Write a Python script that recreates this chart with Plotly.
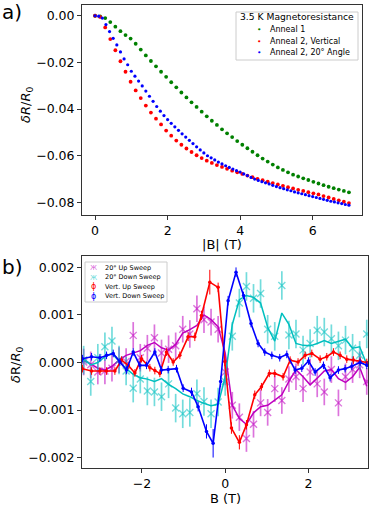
import plotly.graph_objects as go

# ---- panel a: |B| sweep, 3.5 K magnetoresistance ----
b_a = [0.00, 0.14, 0.28, 0.42, 0.56, 0.70, 0.84, 0.98, 1.12, 1.26, 1.40, 1.54, 1.68, 1.82, 1.96,
       2.10, 2.24, 2.38, 2.52, 2.66, 2.80, 2.94, 3.08, 3.22, 3.36, 3.50, 3.64, 3.78, 3.92, 4.06,
       4.20, 4.34, 4.48, 4.62, 4.76, 4.90, 5.04, 5.18, 5.32, 5.46, 5.60, 5.74, 5.88, 6.02, 6.16,
       6.30, 6.44, 6.58, 6.72, 6.86, 7.00]
anneal1 = [0.0000, -0.0003, -0.0010, -0.0027, -0.0047, -0.0066, -0.0083, -0.0098, -0.0120, -0.0145,
           -0.0170, -0.0194, -0.0217, -0.0240, -0.0262, -0.0285, -0.0307, -0.0329, -0.0350, -0.0371,
           -0.0391, -0.0411, -0.0431, -0.0450, -0.0468, -0.0487, -0.0504, -0.0520, -0.0537, -0.0553,
           -0.0568, -0.0583, -0.0598, -0.0612, -0.0625, -0.0638, -0.0650, -0.0661, -0.0671, -0.0681,
           -0.0689, -0.0697, -0.0704, -0.0712, -0.0719, -0.0726, -0.0733, -0.0739, -0.0745, -0.0751,
           -0.0757]
anneal2_vert = [0.0000, -0.0005, -0.0050, -0.0100, -0.0148, -0.0195, -0.0240, -0.0283, -0.0320, -0.0353,
                -0.0385, -0.0415, -0.0441, -0.0466, -0.0492, -0.0514, -0.0535, -0.0553, -0.0569, -0.0584,
                -0.0598, -0.0610, -0.0621, -0.0631, -0.0640, -0.0648, -0.0656, -0.0664, -0.0671, -0.0678,
                -0.0685, -0.0692, -0.0699, -0.0705, -0.0711, -0.0717, -0.0723, -0.0729, -0.0735, -0.0740,
                -0.0746, -0.0751, -0.0756, -0.0761, -0.0766, -0.0773, -0.0779, -0.0785, -0.0791, -0.0797,
                -0.0803]
vert_err = 0.0004

b_a20 = [0.0, 0.1, 0.2, 0.3, 0.4, 0.5, 0.6, 0.7, 0.8, 0.9, 1.0, 1.1, 1.2, 1.3, 1.4, 1.5, 1.6, 1.7,
         1.8, 1.9, 2.0, 2.1, 2.2, 2.3, 2.4, 2.5, 2.6, 2.7, 2.8, 2.9, 3.0, 3.1, 3.2, 3.3, 3.4, 3.5,
         3.6, 3.7, 3.8, 3.9, 4.0, 4.1, 4.2, 4.3, 4.4, 4.5, 4.6, 4.7, 4.8, 4.9, 5.0, 5.1, 5.2, 5.3,
         5.4, 5.5, 5.6, 5.7, 5.8, 5.9, 6.0, 6.1, 6.2, 6.3, 6.4, 6.5, 6.6, 6.7, 6.8, 6.9, 7.0]
anneal2_20 = [0.0000, -0.0002, -0.0010, -0.0038, -0.0068, -0.0097, -0.0125, -0.0155, -0.0185, -0.0210,
              -0.0238, -0.0259, -0.0280, -0.0301, -0.0323, -0.0345, -0.0367, -0.0389, -0.0409, -0.0428,
              -0.0445, -0.0461, -0.0476, -0.0491, -0.0506, -0.0520, -0.0534, -0.0548, -0.0562, -0.0575,
              -0.0588, -0.0600, -0.0609, -0.0618, -0.0627, -0.0635, -0.0643, -0.0650, -0.0657, -0.0664,
              -0.0670, -0.0678, -0.0685, -0.0693, -0.0700, -0.0706, -0.0711, -0.0716, -0.0721, -0.0727,
              -0.0732, -0.0737, -0.0741, -0.0746, -0.0750, -0.0755, -0.0759, -0.0763, -0.0767, -0.0771,
              -0.0775, -0.0779, -0.0783, -0.0787, -0.0791, -0.0795, -0.0798, -0.0802, -0.0805, -0.0809,
              -0.0812]

# ---- panel b: up / down sweeps ----
grid_b = [-3.40, -3.23, -3.06, -2.89, -2.72, -2.55, -2.38, -2.21, -2.04, -1.87, -1.70, -1.53, -1.36,
          -1.19, -1.02, -0.85, -0.68, -0.51, -0.34, -0.17, 0.00, 0.17, 0.34, 0.51, 0.68, 0.85, 1.02,
          1.19, 1.36, 1.53, 1.70, 1.87, 2.04, 2.21, 2.38, 2.55, 2.72, 2.89, 3.06, 3.23, 3.40]

up20_pts = [0.00001, -0.00005, -0.00020, -0.00018, -0.00012, 0.00005, 0.00002, 0.00057, 0.00010, 0.00030,
            0.00052, 0.00020, 0.00028, 0.00035, 0.00070, 0.00060, 0.00113, 0.00090, 0.00085, 0.00070,
            -0.00020, -0.00090, -0.00115, -0.00160, -0.00130, -0.00085, -0.00105, -0.00055, -0.00080, -0.00035,
            -0.00030, -0.00055, -0.00020, -0.00045, -0.00062, -0.00015, -0.00085, -0.00030, -0.00015, -0.00005,
            -0.00040]
up20_err = [0.00028, 0.00028, 0.00026, 0.00028, 0.00028, 0.00027, 0.00028, 0.00028, 0.00029, 0.00028,
            0.00028, 0.00028, 0.00029, 0.00028, 0.00028, 0.00029, 0.00028, 0.00028, 0.00028, 0.00028,
            0.00028, 0.00028, 0.00029, 0.00028, 0.00028, 0.00028, 0.00028, 0.00028, 0.00028, 0.00027,
            0.00028, 0.00028, 0.00028, 0.00028, 0.00028, 0.00028, 0.00028, 0.00028, 0.00028, 0.00028,
            0.00028]
up20_line = [0.00004, -0.00003, -0.00012, -0.00016, -0.00008, 0.00005, 0.00015, 0.00020, 0.00025, 0.00036,
             0.00042, 0.00031, 0.00026, 0.00038, 0.00062, 0.00069, 0.00078, 0.00100, 0.00090, 0.00075,
             0.00020, -0.00090, -0.00118, -0.00130, -0.00106, -0.00093, -0.00090, -0.00079, -0.00068, -0.00040,
             -0.00015, -0.00030, -0.00047, -0.00033, -0.00018, -0.00015, -0.00034, -0.00042, -0.00030, -0.00010,
             -0.00050]

down20_pts = [0.00005, -0.00040, 0.00010, 0.00033, 0.00045, 0.00005, -0.00018, -0.00054, -0.00035, -0.00060,
              -0.00062, -0.00072, -0.00045, -0.00096, -0.00108, -0.00105, -0.00066, -0.00082, -0.00108, -0.00083,
              -0.00040, 0.00055, 0.00125, 0.00160, 0.00135, 0.00145, 0.00070, 0.00055, 0.00162, 0.00058,
              0.00060, 0.00026, 0.00040, 0.00068, 0.00064, 0.00050, 0.00035, 0.00047, 0.00030, 0.00015,
              0.00060]
down20_err = [0.00030, 0.00030, 0.00029, 0.00030, 0.00030, 0.00030, 0.00030, 0.00030, 0.00030, 0.00030,
              0.00030, 0.00030, 0.00030, 0.00030, 0.00030, 0.00030, 0.00030, 0.00030, 0.00030, 0.00030,
              0.00030, 0.00030, 0.00030, 0.00030, 0.00030, 0.00030, 0.00030, 0.00030, 0.00030, 0.00030,
              0.00030, 0.00030, 0.00030, 0.00030, 0.00030, 0.00030, 0.00030, 0.00030, 0.00030, 0.00030,
              0.00030]
down20_line = [0.00008, -0.00005, 0.00000, 0.00012, 0.00019, 0.00002, -0.00013, -0.00025, -0.00032, -0.00035,
               -0.00040, -0.00034, -0.00046, -0.00055, -0.00066, -0.00072, -0.00080, -0.00086, -0.00091, -0.00088,
               -0.00030, 0.00080, 0.00132, 0.00141, 0.00137, 0.00125, 0.00074, 0.00045, 0.00104, 0.00080,
               0.00040, 0.00036, 0.00035, 0.00040, 0.00046, 0.00040, 0.00045, 0.00049, 0.00030, 0.00033,
               -0.00004]

vup_b = [-3.43, -3.21, -3.01, -2.85, -2.65, -2.49, -2.33, -2.17, -2.01, -1.81, -1.69, -1.57, -1.41, -1.25,
         -1.09, -0.89, -0.73, -0.57, -0.37, -0.17, -0.01, 0.15, 0.34, 0.51, 0.71, 0.87, 1.06, 1.19, 1.39,
         1.56, 1.75, 1.92, 2.08, 2.28, 2.44, 2.60, 2.76, 2.92, 3.08, 3.24, 3.40]
vup = [-0.00013, -0.00018, -0.00018, -0.00018, -0.00018, 0.00005, -0.00006, -0.00022, 0.00008, -0.00011,
       -0.00017, -0.00023, 0.00022, 0.00001, 0.00015, 0.00054, 0.00054, 0.00099, 0.00169, 0.00158,
       0.00002, -0.00138, -0.00168, -0.00131, -0.00068, -0.00051, -0.00023, -0.00023, -0.00030, 0.00005,
       0.00001, 0.00015, 0.00019, 0.00007, 0.00012, 0.00022, 0.00015, 0.00007, 0.00005, 0.00003, 0.00000]
vup_err = [0.00008, 0.00008, 0.00008, 0.00008, 0.00008, 0.00008, 0.00008, 0.00008, 0.00008, 0.00008,
           0.00008, 0.00008, 0.00008, 0.00008, 0.00008, 0.00009, 0.00009, 0.00010, 0.00026, 0.00010,
           0.00010, 0.00012, 0.00015, 0.00010, 0.00009, 0.00008, 0.00008, 0.00008, 0.00008, 0.00008,
           0.00008, 0.00008, 0.00008, 0.00008, 0.00008, 0.00008, 0.00008, 0.00008, 0.00008, 0.00008, 0.00008]

vdown_b = [-3.43, -3.21, -3.01, -2.85, -2.69, -2.53, -2.37, -2.21, -2.05, -1.89, -1.69, -1.53, -1.37, -1.17,
           -1.01, -0.81, -0.65, -0.45, -0.29, -0.11, 0.07, 0.26, 0.44, 0.62, 0.79, 0.95, 1.12, 1.31, 1.48,
           1.68, 1.84, 2.00, 2.16, 2.36, 2.52, 2.72, 2.88, 3.04, 3.24, 3.40]
vdown = [0.00008, 0.00012, 0.00010, 0.00015, 0.00019, 0.00001, -0.00016, 0.00022, -0.00006, -0.00006,
         0.00022, -0.00016, -0.00015, -0.00013, -0.00054, -0.00062, -0.00093, -0.00145, -0.00170, -0.00040,
         0.00130, 0.00190, 0.00141, 0.00082, 0.00040, 0.00022, 0.00015, 0.00010, 0.00017, -0.00016,
         -0.00012, 0.00003, -0.00020, -0.00006, -0.00032, -0.00016, -0.00013, -0.00008, 0.00000, -0.00006]
vdown_err = [0.00008, 0.00008, 0.00008, 0.00008, 0.00008, 0.00008, 0.00008, 0.00008, 0.00008, 0.00008,
             0.00008, 0.00008, 0.00008, 0.00008, 0.00008, 0.00009, 0.00010, 0.00015, 0.00030, 0.00012,
             0.00010, 0.00010, 0.00008, 0.00008, 0.00008, 0.00008, 0.00008, 0.00008, 0.00008, 0.00008,
             0.00008, 0.00008, 0.00008, 0.00008, 0.00008, 0.00008, 0.00008, 0.00008, 0.00008, 0.00008]

legend_a_title = "3.5 K Magnetoresistance"
legend_a_labels = ["Anneal 1", "Anneal 2, Vertical", "Anneal 2, 20° Angle"]
legend_b_labels = ["20° Up Sweep", "20° Down Sweep", "Vert. Up Sweep", "Vert. Down Sweep"]

FONT = "DejaVu Sans"
MAG, MAG_LIGHT = "#bf00bf", "rgba(191,0,191,0.55)"
CYA, CYA_LIGHT = "#00bfbf", "rgba(0,191,191,0.55)"
W, H = 374, 510

fig = go.Figure()

# panel a
fig.add_trace(go.Scatter(x=b_a, y=anneal1, mode="markers", marker=dict(color="green", size=3.8),
                         xaxis="x", yaxis="y"))
fig.add_trace(go.Scatter(x=b_a, y=anneal2_vert, mode="markers", marker=dict(color="red", size=3.8),
                         error_y=dict(type="constant", value=vert_err, color="red", thickness=1, width=0),
                         xaxis="x", yaxis="y"))
fig.add_trace(go.Scatter(x=b_a20, y=anneal2_20, mode="markers", marker=dict(color="blue", size=3.2),
                         xaxis="x", yaxis="y"))

# panel b
fig.add_trace(go.Scatter(x=grid_b, y=up20_pts, mode="markers",
                         marker=dict(symbol="x-thin", size=7, line=dict(color=MAG_LIGHT, width=1.4)),
                         error_y=dict(type="data", array=up20_err, color=MAG_LIGHT, thickness=1.7, width=0),
                         xaxis="x2", yaxis="y2"))
fig.add_trace(go.Scatter(x=grid_b, y=up20_line, mode="lines", line=dict(color=MAG, width=1.5),
                         xaxis="x2", yaxis="y2"))
fig.add_trace(go.Scatter(x=grid_b, y=down20_pts, mode="markers",
                         marker=dict(symbol="x-thin", size=7, line=dict(color=CYA_LIGHT, width=1.4)),
                         error_y=dict(type="data", array=down20_err, color=CYA_LIGHT, thickness=1.7, width=0),
                         xaxis="x2", yaxis="y2"))
fig.add_trace(go.Scatter(x=grid_b, y=down20_line, mode="lines", line=dict(color=CYA, width=1.5),
                         xaxis="x2", yaxis="y2"))
fig.add_trace(go.Scatter(x=vup_b, y=vup, mode="lines+markers",
                         line=dict(color="red", width=1.6), marker=dict(color="red", size=3.5),
                         error_y=dict(type="data", array=vup_err, color="red", thickness=1, width=0),
                         xaxis="x2", yaxis="y2"))
fig.add_trace(go.Scatter(x=vdown_b, y=vdown, mode="lines+markers",
                         line=dict(color="blue", width=1.6), marker=dict(color="blue", size=3.5),
                         error_y=dict(type="data", array=vdown_err, color="blue", thickness=1, width=0),
                         xaxis="x2", yaxis="y2"))

axis_common = dict(showgrid=False, zeroline=False, showline=True, mirror=True, linecolor="#333",
                   linewidth=1, ticks="outside", ticklen=4, tickcolor="#333", automargin=False,
                   tickfont=dict(family=FONT, size=12.5, color="black"))

fig.update_layout(
    template="none", showlegend=False,
    width=W, height=H, margin=dict(l=0, r=0, t=0, b=0, pad=0), autosize=False,
    paper_bgcolor="white", plot_bgcolor="white",
    font=dict(family=FONT, color="black"),
    xaxis=dict(domain=[82 / W, 362 / W], range=[-0.36, 7.36], tickvals=[0, 2, 4, 6], anchor="y", **axis_common),
    yaxis=dict(domain=[295 / H, 505 / H], range=[-0.0854, 0.0046], tickvals=[0, -0.02, -0.04, -0.06, -0.08],
               tickformat=".2f", anchor="x", **axis_common),
    xaxis2=dict(domain=[82 / W, 368 / W], range=[-3.44, 3.43], tickvals=[-2, 0, 2], anchor="y2", **axis_common),
    yaxis2=dict(domain=[42 / H, 254 / H], range=[-0.00222, 0.00224],
                tickvals=[-0.002, -0.001, 0, 0.001, 0.002], tickformat=".3f", anchor="x2", **axis_common),
)


def px(x, y):
    # pixel position (from top-left) -> paper coordinates
    return x / W, 1 - y / H


annos = []


def text(s, x, y, size, xanchor="left", color="black", angle=0):
    xp, yp = px(x, y)
    annos.append(dict(text=s, x=xp, y=yp, xref="paper", yref="paper", showarrow=False,
                      xanchor=xanchor, yanchor="middle", textangle=angle, borderpad=0,
                      font=dict(family=FONT, size=size, color=color)))


text("a)", 1, 12, 20)
text("b)", 1, 267, 20)
text("|B| (T)", 222, 244, 13, "center")
text("B (T)", 225, 498, 13, "center")
text("<i>δR</i>/<i>R</i><sub>0</sub>", 27, 105, 13, "center", angle=-90)
text("<i>δ</i>R/<i>R</i><sub>0</sub>", 16, 365, 13, "center", angle=-90)

# legend boxes (drawn as shapes, like matplotlib's framed legend)
shapes = []
for (x0, y0, x1, y1) in [(236, 12, 358, 60), (85, 262, 167, 302)]:
    a0, b0 = px(x0, y1)
    a1, b1 = px(x1, y0)
    shapes.append(dict(type="rect", xref="paper", yref="paper", x0=a0, y0=b0, x1=a1, y1=b1,
                       line=dict(color="#cccccc", width=1), fillcolor="rgba(255,255,255,0.8)", layer="above"))
fig.update_layout(shapes=shapes)

# legend a
text(legend_a_title, 239, 17, 9.2)
for lab, col, yy in zip(legend_a_labels, ["green", "red", "blue"], [29.5, 41, 52.5]):
    text("•", 259, yy, 7.5, "center", color=col)
    text(lab, 269, yy, 8)

# legend b
glyphs_b = [("ж", MAG_LIGHT), ("ж", CYA_LIGHT), ("ɸ", "red"), ("ɸ", "blue")]
for lab, (g, col), yy in zip(legend_b_labels, glyphs_b, [267.5, 277, 286.5, 296]):
    text(g, 93, yy, 8, "center", color=col)
    text(lab, 104, yy, 6.5)

fig.update_layout(annotations=annos)

fig.write_html("out.html", config={"displayModeBar": False},
               post_script="document.body.style.margin='0px';")
